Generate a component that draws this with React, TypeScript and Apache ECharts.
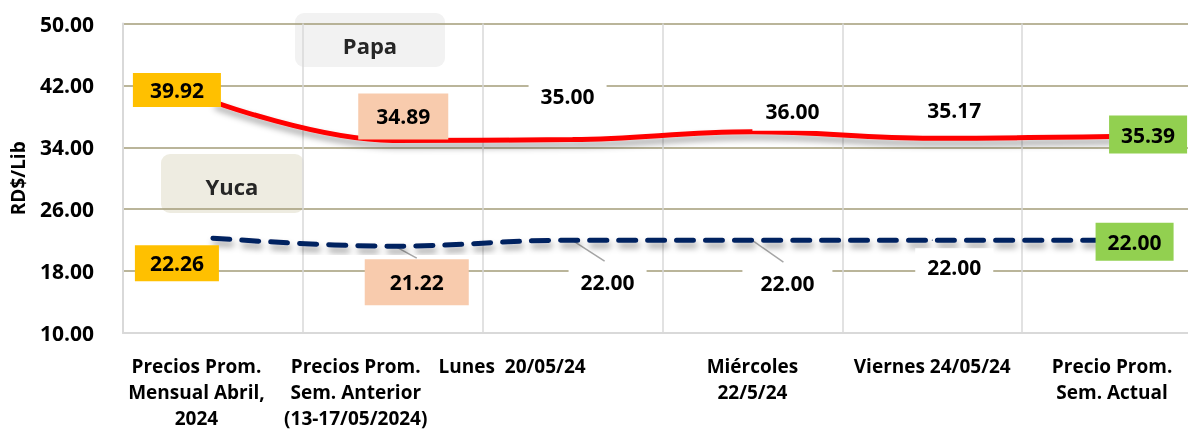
import React, { useEffect, useRef } from "react";
import * as echarts from "echarts";

const categories = [
  "Precios Prom.\nMensual Abril,\n2024",
  "Precios Prom.\nSem. Anterior\n(13-17/05/2024)",
  "Lunes  20/05/24",
  "Miércoles\n22/5/24",
  "Viernes 24/05/24",
  "Precio Prom.\nSem. Actual",
];
const papa = [39.92, 34.89, 35.0, 36.0, 35.17, 35.39];
const yuca = [22.26, 21.22, 22.0, 22.0, 22.0, 22.0];
const yTicks = [10, 18, 26, 34, 42, 50];
const seriesNames = ["Papa", "Yuca"];

// label layout (style, not data)
const ORANGE = "#FFC000";
const PEACH = "#F8CBAD";
const GREEN = "#92D050";
const WHITE = "#FFFFFF";
const papaLabelBg = [ORANGE, PEACH, WHITE, WHITE, WHITE, GREEN];
const papaLabelOffset = [[-36, -11.5], [10.5, -24], [-5, -44], [40, -21], [22, -28], [36, -2]];
const papaLabelPad = [[6, 17], [12, 18], [8, 12], [9, 13], [8, 12], [8, 12]];
const yucaLabelBg = [ORANGE, PEACH, WHITE, WHITE, WHITE, GREEN];
const yucaLabelOffset = [[-36, 25], [24, 36], [35, 42], [35, 43], [22, 27], [22.5, 1.5]];
const yucaLabelPad = [[7, 15], [12, 25], [6, 12], [6, 18], [8, 12], [8, 12]];
const leaderIdx = [1, 2, 3];
const leaderGeom = [[2, 0, 24, 12], [1, 1, 32, 21], [1, 1, 31, 22]];
const catShift = [33, 74, 121, 0, 0, 0];

const FONT = "'Open Sans', 'Noto Sans', sans-serif";

export default function App() {
  const ref = useRef<HTMLDivElement>(null);
  useEffect(() => {
    document.body.style.margin = "0";
    const chart = echarts.init(ref.current!, null, { renderer: "svg" });
    const baseLabel = {
      show: true,
      position: "inside",
      fontFamily: FONT,
      fontWeight: "bold",
      fontSize: 21,
      lineHeight: 22,
      color: "#000",
    };
    const mk = (vals: number[], bg: string[], off: number[][], pad: number[][]) =>
      vals.map((v, i) => ({
        value: v,
        label: {
          ...baseLabel,
          backgroundColor: bg[i],
          padding: pad[i],
          offset: off[i],
          formatter: (p: any) => Number(p.value).toFixed(2),
        },
      }));
    const rich: any = {};
    catShift.forEach((s, i) => {
      rich["c" + i] = {
        fontFamily: FONT,
        fontWeight: "bold",
        fontSize: 19,
        lineHeight: 26,
        color: "#000",
        padding: [0, s, 0, 0],
      };
    });
    const shadow = {
      shadowColor: "rgba(0,0,0,0.38)",
      shadowBlur: 6,
      shadowOffsetX: 2,
      shadowOffsetY: 5,
    };
    chart.setOption({
      animation: false,
      grid: {
        left: 123,
        top: 23.5,
        width: 1079,
        height: 309.5,
        containLabel: false,
        outerBoundsMode: "none",
      },
      xAxis: {
        type: "category",
        data: categories,
        boundaryGap: true,
        axisLine: { show: true, lineStyle: { color: "#D9D9D9", width: 2 } },
        axisTick: { show: false },
        splitLine: { show: true, lineStyle: { color: "#D9D9D9", width: 1.5 } },
        axisLabel: {
          interval: 0,
          margin: 20,
          formatter: (value: string, index: number) =>
            value
              .split("\n")
              .map((l) => `{c${index}|${l}}`)
              .join("\n"),
          rich,
        },
      },
      yAxis: {
        type: "value",
        min: yTicks[0],
        max: yTicks[yTicks.length - 1],
        interval: yTicks[1] - yTicks[0],
        name: "RD$/Lib",
        nameLocation: "middle",
        nameRotate: 90,
        nameGap: 96,
        nameTextStyle: { fontFamily: FONT, fontWeight: "bold", fontSize: 19, color: "#000" },
        axisLine: { show: true, lineStyle: { color: "#D9D9D9", width: 2 } },
        axisTick: { show: false },
        splitLine: { show: true, lineStyle: { color: "#A39D78", width: 1.5 } },
        axisLabel: {
          margin: 29,
          fontFamily: FONT,
          fontWeight: "bold",
          fontSize: 21,
          color: "#000",
          formatter: (v: number) => v.toFixed(2),
        },
      },
      graphic: [
        {
          type: "group",
          z: 50,
          children: [
            {
              type: "rect",
              shape: { x: 295, y: 13, width: 150, height: 54, r: 9 },
              style: { fill: "#F2F2F2" },
            },
            {
              type: "text",
              x: 370,
              y: 45,
              style: {
                text: seriesNames[0],
                fontFamily: FONT,
                fontWeight: "bold",
                fontSize: 22,
                fill: "#262626",
                align: "center",
                verticalAlign: "middle",
              },
            },
            {
              type: "rect",
              shape: { x: 161, y: 154, width: 143, height: 59, r: 9 },
              style: { fill: "#EEECE1" },
            },
            {
              type: "text",
              x: 232,
              y: 186,
              style: {
                text: seriesNames[1],
                fontFamily: FONT,
                fontWeight: "bold",
                fontSize: 22,
                fill: "#262626",
                align: "center",
                verticalAlign: "middle",
              },
            },
          ],
        },
      ],
      series: [
        {
          name: seriesNames[0],
          type: "line",
          smooth: 0.4,
          symbol: "circle",
          symbolSize: 1,
          itemStyle: { color: "#FF0000" },
          lineStyle: { color: "#FF0000", width: 5, ...shadow },
          data: mk(papa, papaLabelBg, papaLabelOffset, papaLabelPad),
          z: 3,
        },
        {
          name: seriesNames[1],
          type: "line",
          smooth: 0.4,
          symbol: "circle",
          symbolSize: 1,
          itemStyle: { color: "#002060" },
          lineStyle: { color: "#002060", width: 5, type: [17, 12], cap: "round", ...shadow },
          data: mk(yuca, yucaLabelBg, yucaLabelOffset, yucaLabelPad),
          z: 3,
        },
        {
          type: "custom",
          silent: true,
          z: 2,
          data: leaderIdx.map((i) => [i, yuca[i]]),
          renderItem: (params: any, api: any) => {
            const p = api.coord([api.value(0), api.value(1)]);
            const g = leaderGeom[params.dataIndex];
            return {
              type: "line",
              shape: { x1: p[0] + g[0], y1: p[1] + g[1], x2: p[0] + g[2], y2: p[1] + g[3] },
              style: { stroke: "#A6A6A6", lineWidth: 1.5 },
            };
          },
        },
      ],
    });
    return () => chart.dispose();
  }, []);
  return <div ref={ref} style={{ position: "fixed", left: 0, top: 0, width: 1188, height: 433 }} />;
}
